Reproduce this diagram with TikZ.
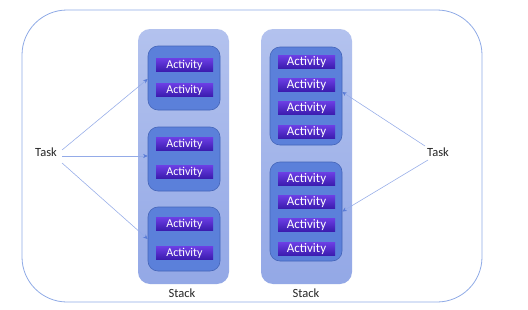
\documentclass[tikz,border=0pt]{standalone}
\usepackage{fontspec}
\setmainfont{Carlito}
\usetikzlibrary{arrows.meta}
\definecolor{frameline}{HTML}{8FAAE6}
\definecolor{stacktop}{HTML}{B3C2EE}
\definecolor{stackbot}{HTML}{93A8E6}
\definecolor{groupfill}{HTML}{5B80DA}
\definecolor{groupline}{HTML}{4465B8}
\definecolor{acttop}{HTML}{6B3DE3}
\definecolor{actbot}{HTML}{3A1BAE}
\definecolor{linkline}{HTML}{94ABE8}
\definecolor{tipblue}{HTML}{5A7CD6}
\tikzset{
  stackbox/.style={rounded corners=12pt, top color=stacktop, bottom color=stackbot, draw=none,
    minimum width=91pt, minimum height=255pt, inner sep=0pt},
  groupbox/.style={rounded corners=10pt, fill=groupfill, draw=groupline, line width=0.6pt,
    minimum width=72pt, inner sep=0pt},
  actbox/.style={top color=acttop, bottom color=actbot, text=white, inner sep=0pt,
    minimum height=13pt, minimum width=57pt, font=\fontsize{12}{12}\selectfont},
  bigact/.style={actbox, font=\fontsize{13}{13}\selectfont},
  label/.style={font=\fontsize{12.5}{13}\selectfont, text=black!85},
  link/.style={draw=linkline, line width=0.55pt,
    -{Stealth[length=4.5pt,width=4pt,color=tipblue]}}
}
\begin{document}
\begin{tikzpicture}[x=1pt,y=1pt]
\useasboundingbox (0,0) rectangle (528,309);
% outer frame
\draw[frameline, line width=0.8pt, rounded corners=45pt, fill=white] (22,7) rectangle (482,299);

% the two stacks
\node[stackbox] (stackL) at (183.5,152.5) {};
\node[stackbox] (stackR) at (306.5,152.5) {};
\node[label] (stackLlab) at (182,16) {Stack};
\node[label] (stackRlab) at (306,16) {Stack};

% left stack: three groups of two activities
\node[groupbox, minimum height=64pt] (g1) at (184,231) {};
\node[groupbox, minimum height=64pt] (g2) at (184,150) {};
\node[groupbox, minimum height=64pt] (g3) at (184,70) {};

\node[actbox] (a11) at (184.5,244) {Activity};
\node[actbox] (a12) at (184.5,219) {Activity};
\node[actbox] (a21) at (184.5,165) {Activity};
\node[actbox] (a22) at (184.5,137) {Activity};
\node[actbox] (a31) at (184.5,85) {Activity};
\node[actbox] (a32) at (184.5,56) {Activity};

% right stack: two groups of four activities
\node[groupbox, minimum height=98pt] (gA) at (306,213) {};
\node[groupbox, minimum height=99pt] (gB) at (306,97.5) {};

\node[bigact] (b1) at (306.5,247) {Activity};
\node[bigact] (b2) at (306.5,224) {Activity};
\node[bigact] (b3) at (306.5,201) {Activity};
\node[bigact] (b4) at (306.5,177) {Activity};
\node[bigact] (c1) at (306.5,130) {Activity};
\node[bigact] (c2) at (306.5,107) {Activity};
\node[bigact] (c3) at (306.5,84) {Activity};
\node[bigact] (c4) at (306.5,60) {Activity};

% tasks
\node[label, inner sep=1pt] (taskL) at (46,157) {Task};
\node[label, inner sep=1pt] (taskR) at (438,157) {Task};

% links from tasks to groups
\draw[link] ([xshift=4pt,yshift=2pt]taskL.east) -- ([yshift=-1pt]g1.west);
\draw[link] ([xshift=4pt,yshift=-4pt]taskL.east) -- ([yshift=3pt]g2.west);
\draw[link] ([xshift=4pt,yshift=-11pt]taskL.east) -- (g3.west);
\draw[link] ([xshift=-1pt,yshift=6pt]taskR.west) -- ([yshift=4pt]gA.east);
\draw[link] ([xshift=2pt,yshift=-8pt]taskR.west) -- (gB.east);
\end{tikzpicture}
\end{document}
